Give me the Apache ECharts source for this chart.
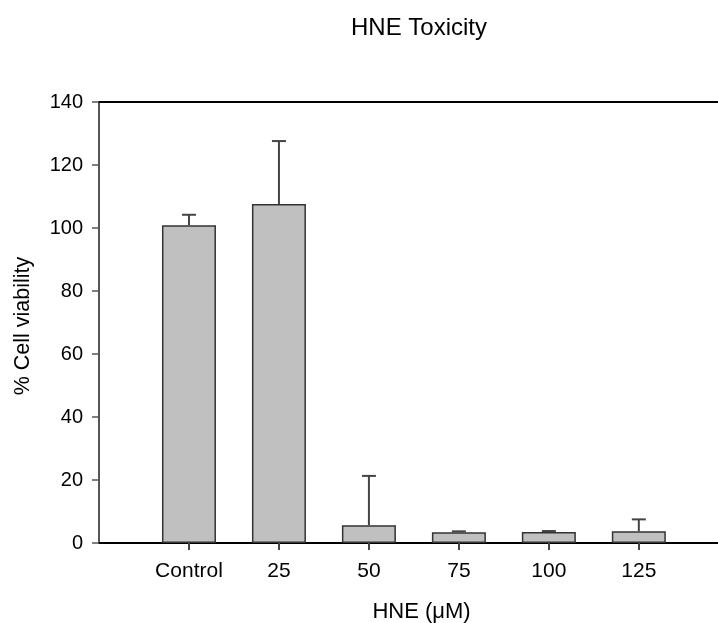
<!DOCTYPE html>
<html>
<head>
<meta charset="utf-8">
<script src="https://cdn.jsdelivr.net/npm/echarts@6/dist/echarts.min.js"></script>
<style>
	html, body { margin: 0; padding: 0; background: #fff; }
	#main { width: 718px; height: 623px; }
</style>
</head>
<body>
<div id="main"></div>
<script type="text/javascript">
	// 数据
	var categories = ['Control', '25', '50', '75', '100', '125'];
	var viability = [100.9, 107.6, 5.6, 3.4, 3.5, 3.7];
	var errUp = [3.3, 20.0, 15.7, 0.3, 0.3, 3.8];
	var yTicks = [0, 20, 40, 60, 80, 100, 120, 140];

	var chart = echarts.init(document.getElementById('main'));
	var font = 'Liberation Sans, Arial, sans-serif';

	// 柱状数据：x 取 1..6
	var barData = [];
	var errData = [];
	for (var i = 0; i < categories.length; i++) {
		barData.push([i + 1, viability[i]]);
		errData.push([i + 1, viability[i], viability[i] + errUp[i]]);
	}
	var xMax = 6.88;

	chart.setOption({
		animation: false,
		title: {
			text: 'HNE Toxicity',
			left: 414, top: 11, textAlign: 'center',
			textStyle: { fontFamily: font, fontSize: 24, fontWeight: 'normal', color: '#000' }
		},
		grid: { left: 99, top: 102, right: 0, bottom: 80, outerBoundsMode: 'none' },
		xAxis: [{
			type: 'value', min: 0, max: xMax,
			name: 'HNE (\u03bcM)', nameLocation: 'middle', nameGap: 58,
			nameTextStyle: { fontFamily: font, fontSize: 22, color: '#000', padding: [0, 0, 0, 26] },
			axisLine: { show: true, onZero: false, lineStyle: { color: '#000', width: 2 } },
			axisTick: { show: true, customValues: [1, 2, 3, 4, 5, 6], length: 7, lineStyle: { color: '#444', width: 2 } },
			axisLabel: {
				customValues: [1, 2, 3, 4, 5, 6], margin: 18,
				fontFamily: font, fontSize: 21, color: '#000',
				formatter: function (v) { return categories[Math.round(v) - 1] || ''; }
			},
			splitLine: { show: false }
		}, {
			type: 'value', min: 0, max: xMax, position: 'top',
			axisLine: { show: true, onZero: false, lineStyle: { color: '#000', width: 2 } },
			axisTick: { show: false }, axisLabel: { show: false }, splitLine: { show: false }
		}],
		yAxis: {
			type: 'value', min: 0, max: 140, interval: 20,
			name: '% Cell viability', nameLocation: 'middle', nameGap: 65, nameRotate: 90,
			nameTextStyle: { fontFamily: font, fontSize: 21.5, color: '#000', padding: [0, 7, 0, 0] },
			axisLine: { show: true, lineStyle: { color: '#555', width: 2 } },
			axisTick: { show: true, length: 7, lineStyle: { color: '#555', width: 1.5 } },
			axisLabel: {
				margin: 16, fontFamily: font, fontSize: 20, color: '#000',
				formatter: function (v) { return yTicks.indexOf(v) >= 0 ? String(v) : ''; }
			},
			splitLine: { show: false }
		},
		series: [{
			type: 'bar',
			data: barData,
			barWidth: 54,
			itemStyle: { color: '#c0c0c0', borderColor: '#333', borderWidth: 1.5 }
		}, {
			// 误差线（只画上半部分）
			type: 'custom',
			data: errData,
			z: 3,
			renderItem: function (params, api) {
				var x = api.value(0);
				var p0 = api.coord([x, api.value(1)]);
				var p1 = api.coord([x, api.value(2)]);
				var half = 7;
				var st = { stroke: '#444', lineWidth: 2 };
				return {
					type: 'group',
					children: [
						{ type: 'line', shape: { x1: p0[0], y1: p0[1], x2: p1[0], y2: p1[1] }, style: st },
						{ type: 'line', shape: { x1: p1[0] - half, y1: p1[1], x2: p1[0] + half, y2: p1[1] }, style: st }
					]
				};
			}
		}]
	});
</script>
</body>
</html>
